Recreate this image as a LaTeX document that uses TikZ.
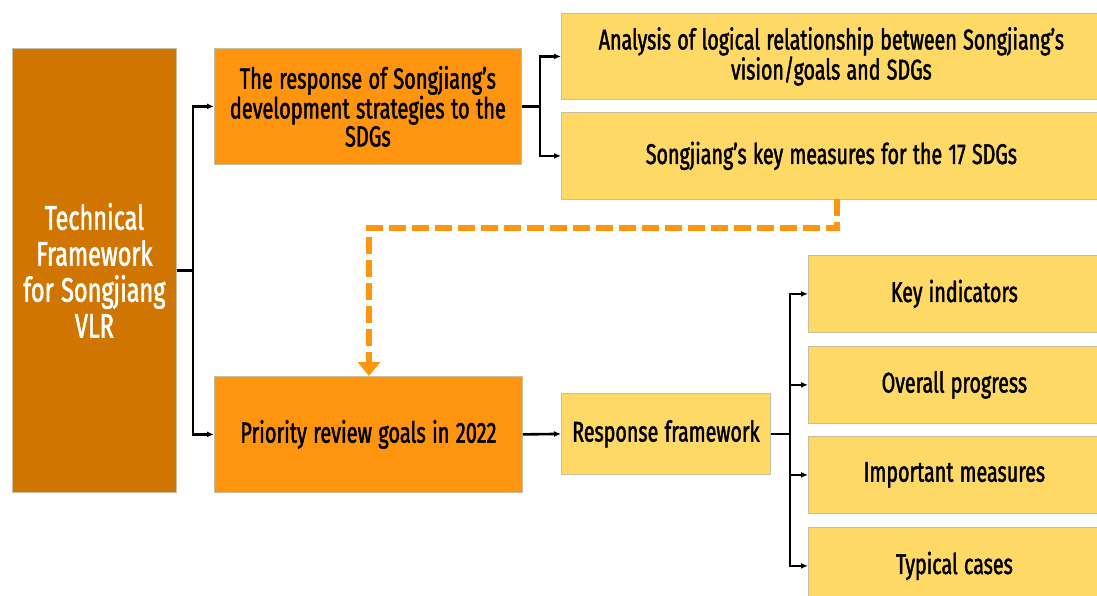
\documentclass[tikz,border=0pt]{standalone}
\usepackage{fontspec}
\setmainfont{Fira Sans}[FakeStretch=0.69, FakeBold=1.6]
\usetikzlibrary{arrows.meta}
\definecolor{dorange}{RGB}{207,117,0}
\definecolor{morange}{RGB}{255,149,14}
\definecolor{yel}{RGB}{255,217,102}
\definecolor{ygray}{RGB}{200,190,160}
\newcommand{\narrowsp}{\spaceskip=0.22em\relax\xspaceskip=0.22em\relax}
\begin{document}
\begin{tikzpicture}[x=1pt,y=-1pt,
  box/.style={draw=ygray, line width=0.8pt, anchor=north west, align=center, inner sep=2pt, execute at begin node=\narrowsp},
  mainbox/.style={box, fill=dorange, text=white, font=\fontsize{34}{36}\selectfont},
  obox/.style={box, fill=morange, text=black, font=\fontsize{29}{28}\selectfont},
  ybox/.style={box, fill=yel, text=black, font=\fontsize{28.5}{28}\selectfont},
  conn/.style={line width=2.6pt, -{Latex[length=7pt,width=6pt]}},
  dconn/.style={draw=morange, line width=5.5pt, dash pattern=on 17pt off 6pt, -{Triangle[length=14pt,width=22pt]}}
]
\useasboundingbox (0,0) rectangle (1097,596);
\node[mainbox, minimum width=164pt, minimum height=444pt, text width=160pt] (m) at (12,48) {Technical\\Framework\\for Songjiang\\VLR};
\node[obox, minimum width=307pt, minimum height=116pt, text width=300pt] (a) at (214,48) {The response of Songjiang’s\\development strategies to the\\SDGs};
\node[obox, minimum width=308pt, minimum height=116pt, text width=300pt] (b) at (214,376) {Priority review goals in 2022};
\node[ybox, minimum width=540pt, minimum height=86pt, text width=530pt] (c1) at (561,13) {Analysis of logical relationship between Songjiang’s\\vision/goals and SDGs};
\node[ybox, minimum width=540pt, minimum height=87pt, text width=530pt] (c2) at (561,112) {Songjiang’s key measures for the 17 SDGs};
\node[ybox, minimum width=209pt, minimum height=81pt, text width=205pt] (r) at (561,393) {Response framework};
\node[ybox, minimum width=292pt, minimum height=77pt, text width=280pt] (k1) at (808,255) {Key indicators};
\node[ybox, minimum width=292pt, minimum height=77pt, text width=280pt] (k2) at (808,346) {Overall progress};
\node[ybox, minimum width=292pt, minimum height=77pt, text width=280pt] (k3) at (808,436) {Important measures};
\node[ybox, minimum width=292pt, minimum height=77pt, text width=280pt] (k4) at (808,527) {Typical cases};

\coordinate (j1) at (193,0);
\draw[conn] (m.east) -| (j1 |- a.west) -- (a.west);
\draw[conn] (m.east) -| (j1 |- b.west) -- (b.west);
\coordinate (j2) at (540,0);
\draw[conn] (a.east) -| (j2 |- c1.west) -- (c1.west);
\draw[conn] (a.east) -| (j2 |- c2.west) -- (c2.west);
\draw[conn] (b.east) -- (r.west);
\coordinate (j3) at (790,0);
\draw[conn] (r.east) -| (j3 |- k1.west) -- (k1.west);
\draw[conn] (r.east) -| (j3 |- k2.west) -- (k2.west);
\draw[conn] (r.east) -| (j3 |- k3.west) -- (k3.west);
\draw[conn] (r.east) -| (j3 |- k4.west) -- (k4.west);
\coordinate (d1) at (837,199);
\coordinate (d2) at (837,228);
\coordinate (d3) at (369,228);
\draw[dconn] (d1) -- (d2) -- (d3) -- (d3 |- b.north);
\end{tikzpicture}
\end{document}
